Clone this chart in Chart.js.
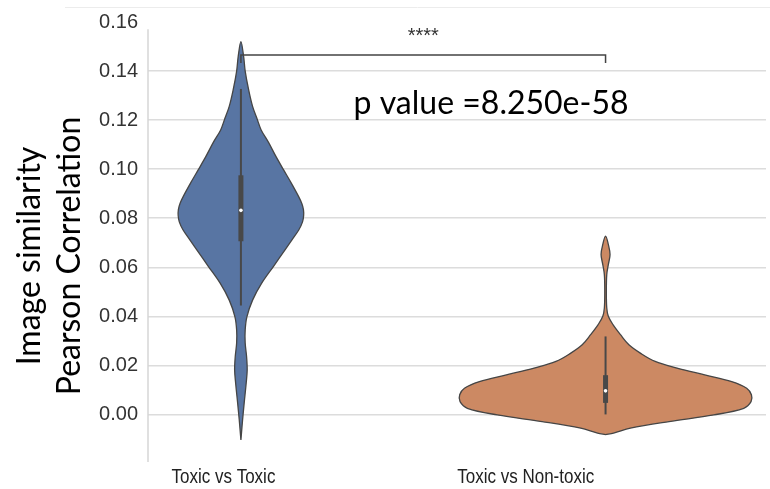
<!DOCTYPE html>
<html>
<head>
<meta charset="utf-8">
<script src="https://cdn.jsdelivr.net/npm/chart.js@4/dist/chart.umd.min.js"></script>
<style>
  html, body { margin: 0; padding: 0; background: #fff; }
  #wrap { width: 770px; height: 489px; position: relative; }
</style>
</head>
<body>
<div id="wrap"><canvas id="chart"></canvas></div>
<script>
// Groups compared
const categories = ['Toxic vs Toxic', 'Toxic vs Non-toxic'];

// Kernel density outline of each group: correlation level and half-width (in category units)
const toxicLevels = [-0.0104, -0.0022, 0.0047, 0.0128, 0.0181, 0.0235, 0.0291, 0.0344, 0.0398, 0.0466,
  0.0535, 0.0603, 0.0671, 0.0712, 0.0753, 0.0785, 0.0810, 0.0835, 0.0860, 0.0889, 0.0945, 0.0998,
  0.1053, 0.1109, 0.1160, 0.1200, 0.1256, 0.1325, 0.1400, 0.1460, 0.1520];
const toxicHalfWidth = [0, 0.0046, 0.0090, 0.0145, 0.0172, 0.0156, 0.0117, 0.0117, 0.0164, 0.0320,
  0.0570, 0.0890, 0.1210, 0.1400, 0.1590, 0.1690, 0.1720, 0.1715, 0.1670, 0.1580, 0.1374, 0.1167,
  0.0956, 0.0757, 0.0555, 0.0456, 0.0320, 0.0210, 0.0117, 0.0074, 0];

const nonToxicLevels = [-0.0082, -0.0076, -0.0056, -0.0029, -0.0002, 0.0025, 0.0052, 0.0080, 0.0107, 0.0134,
  0.0161, 0.0189, 0.0216, 0.0250, 0.0284, 0.0325, 0.0366, 0.0400, 0.0434, 0.0502,
  0.0570, 0.0611, 0.0652, 0.0693, 0.0727];
const nonToxicHalfWidth = [0, 0.022, 0.068, 0.174, 0.297, 0.379, 0.399, 0.400, 0.387, 0.346,
  0.272, 0.196, 0.136, 0.0954, 0.064, 0.0409, 0.0204, 0.0076, 0.0033, 0.0022,
  0.0033, 0.0076, 0.0123, 0.0076, 0];

// Inner box plot of each group
const whiskerLow  = [0.0444, 0.0000];
const quartile1   = [0.0706, 0.0047];
const medians     = [0.0832, 0.0096];
const quartile3   = [0.0975, 0.0160];
const whiskerHigh = [0.1327, 0.0318];

// Significance annotation
const pValue = 8.250e-58;
const significanceStars = '****';
const bracketLevel = 0.1465;
const bracketDrop = 0.1433;

const fillColors = ['#5875a3', '#cc8963'];
const outline = '#454545';

function violinOutline(center, levels, halfWidth) {
  const right = levels.map((v, k) => ({ x: center + halfWidth[k], y: v }));
  const left = levels.map((v, k) => ({ x: center - halfWidth[k], y: v })).reverse();
  return right.concat(left.slice(1));
}

const violinSets = [
  violinOutline(0, toxicLevels, toxicHalfWidth),
  violinOutline(1, nonToxicLevels, nonToxicHalfWidth)
].map((pts, i) => ({
  data: pts,
  showLine: true,
  fill: 'shape',
  backgroundColor: fillColors[i],
  borderColor: outline,
  borderWidth: 1.3,
  pointRadius: 0,
  tension: 0.35,
  order: 5
}));

const whiskerSets = categories.map((c, i) => ({
  data: [{ x: i, y: whiskerLow[i] }, { x: i, y: whiskerHigh[i] }],
  showLine: true,
  borderColor: '#484848',
  borderWidth: 2,
  pointRadius: 0,
  order: 3
}));

const boxSets = categories.map((c, i) => ({
  data: [{ x: i, y: quartile1[i] }, { x: i, y: quartile3[i] }],
  showLine: true,
  borderColor: '#484848',
  borderWidth: 5,
  borderCapStyle: 'butt',
  pointRadius: 0,
  order: 2
}));

const medianSet = {
  data: medians.map((m, i) => ({ x: i, y: m })),
  showLine: false,
  pointRadius: 1.8,
  pointBackgroundColor: '#ffffff',
  pointBorderWidth: 0,
  order: 1
};

const bracketSet = {
  data: [{ x: 0, y: bracketDrop }, { x: 0, y: bracketLevel }, { x: 1, y: bracketLevel }, { x: 1, y: bracketDrop }],
  showLine: true,
  borderColor: '#444444',
  borderWidth: 1.5,
  pointRadius: 0,
  order: 0
};

// Positions of the two group labels along the x axis
const groupLabelAt = [-0.048, 0.781];
// Top end of the drawn value axis line
const axisLineTop = 0.157;

const annotations = {
  id: 'annotations',
  beforeDatasetsDraw(chart) {
    const { ctx, chartArea, scales: { y } } = chart;
    ctx.save();
    ctx.strokeStyle = '#d6d6d6';
    ctx.lineWidth = 1.5;
    ctx.beginPath();
    ctx.moveTo(chartArea.left, y.getPixelForValue(axisLineTop));
    ctx.lineTo(chartArea.left, chartArea.bottom);
    ctx.stroke();
    ctx.restore();
  },
  afterDraw(chart) {
    const { ctx, chartArea, scales: { x, y } } = chart;
    ctx.save();
    // faint rule along the top
    ctx.strokeStyle = '#ececec';
    ctx.lineWidth = 1;
    ctx.beginPath();
    ctx.moveTo(65, 7.5);
    ctx.lineTo(770, 7.5);
    ctx.stroke();

    // group labels in a condensed face
    ctx.fillStyle = '#222';
    ctx.font = '21px "Liberation Sans", Arial, sans-serif';
    ctx.textAlign = 'center';
    ctx.textBaseline = 'middle';
    categories.forEach((name, i) => {
      ctx.save();
      ctx.translate(x.getPixelForValue(groupLabelAt[i]), chartArea.bottom + 15);
      ctx.scale(0.81, 1);
      ctx.fillText(name, 0, 0);
      ctx.restore();
    });

    // significance stars
    ctx.fillStyle = '#333';
    ctx.font = '20px "Liberation Sans", Arial, sans-serif';
    ctx.fillText(significanceStars, x.getPixelForValue(0.5), y.getPixelForValue(0.1540));

    // p value
    ctx.fillStyle = '#000';
    ctx.font = '32px Lato, "Open Sans", sans-serif';
    ctx.textAlign = 'left';
    ctx.textBaseline = 'alphabetic';
    ctx.fillText('p value =' + pValue.toExponential(3), x.getPixelForValue(0.309), y.getPixelForValue(0.1224));

    // y axis title, two lines
    ctx.translate(0, 256);
    ctx.rotate(-Math.PI / 2);
    ctx.textAlign = 'center';
    ctx.textBaseline = 'middle';
    ctx.fillStyle = '#000';
    ctx.font = '32px Lato, "Open Sans", sans-serif';
    ctx.fillText('Image similarity', 0, 30);
    ctx.fillText('Pearson Correlation', 0, 70);
    ctx.restore();
  }
};

new Chart(document.getElementById('chart'), {
  type: 'scatter',
  data: { datasets: [...violinSets, ...whiskerSets, ...boxSets, medianSet, bracketSet] },
  options: {
    responsive: true,
    maintainAspectRatio: false,
    animation: false,
    layout: { padding: { top: 22, right: 0, bottom: 0, left: 0 } },
    plugins: { legend: { display: false }, tooltip: { enabled: false } },
    scales: {
      x: {
        type: 'linear',
        min: -0.2548,
        max: 1.44,
        grid: { display: false, drawTicks: false },
        border: { display: false },
        ticks: { display: false },
        afterFit(scale) { scale.height = 27; }
      },
      y: {
        type: 'linear',
        min: -0.0194,
        max: 0.16,
        afterFit(scale) { scale.width = 148; },
        grid: {
          drawTicks: false,
          lineWidth: 1.5,
          color: c => (c.tick && c.tick.value > 0.159 ? 'rgba(0,0,0,0)' : '#dcdcdc')
        },
        border: { display: false },
        ticks: {
          stepSize: 0.02,
          includeBounds: false,
          padding: 10,
          color: '#333',
          font: { family: '"Liberation Sans", Arial, sans-serif', size: 20 },
          callback: v => v.toFixed(2)
        }
      }
    }
  },
  plugins: [annotations]
});
</script>
</body>
</html>
